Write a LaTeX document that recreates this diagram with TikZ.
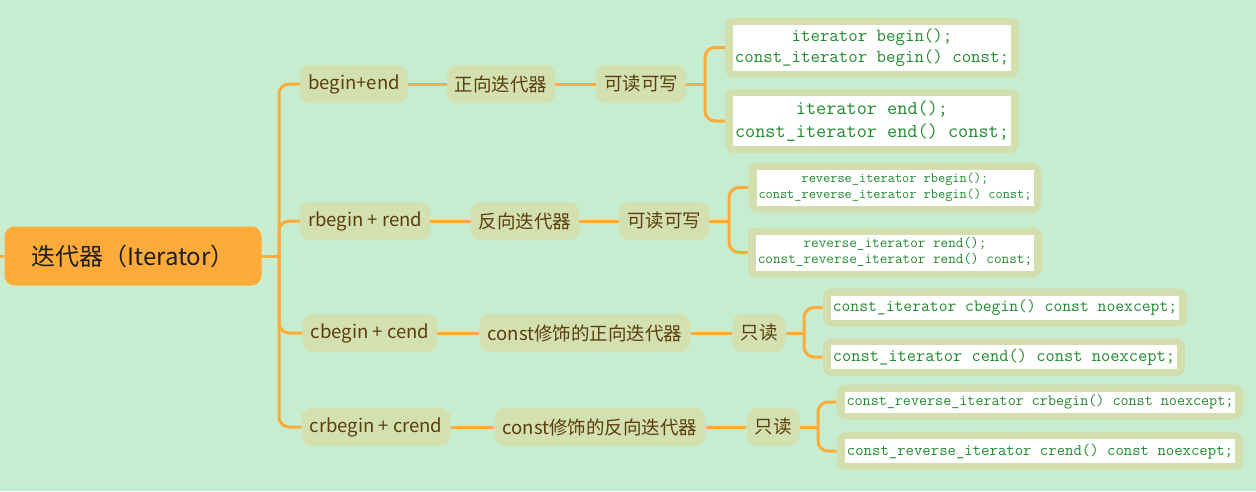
\documentclass[tikz,border=0pt]{standalone}
\usepackage{fontspec}
\setmainfont{Noto Sans CJK SC}
\usepackage{tikz}
\usetikzlibrary{positioning}
\definecolor{bgmint}{HTML}{C7EDD0}
\definecolor{rootorange}{HTML}{FFAB3A}
\definecolor{roottext}{HTML}{1E1E1E}
\definecolor{topicfill}{HTML}{D3E1B0}
\definecolor{topictext}{HTML}{5C3D0E}
\definecolor{leafframe}{HTML}{D2DEAE}
\definecolor{codegreen}{HTML}{1F8A2E}
\definecolor{linkorange}{HTML}{FFAB3A}
\setlength{\fboxsep}{2pt}
\newcommand{\codebox}[1]{\colorbox{white}{\begin{tabular}{@{}c@{}}#1\end{tabular}}}

\begin{document}
\begin{tikzpicture}[x=1pt,y=-1pt,
  root/.style={fill=rootorange, rounded corners=10pt, minimum width=257pt,
    minimum height=59pt, text=roottext, font=\fontsize{24}{28}\selectfont},
  topic/.style={fill=topicfill, rounded corners=10pt, minimum height=38pt,
    inner xsep=8pt, text=topictext, font=\fontsize{18.5}{22}\selectfont},
  leaf/.style={fill=leafframe, rounded corners=9pt, inner xsep=8pt,
    inner ysep=7pt, text=codegreen},
  codefont/.style 2 args={font=\ttfamily\fontsize{#1}{#2}\selectfont},
  link/.style={draw=linkorange, line width=3pt, rounded corners=10pt}]
% Background
\useasboundingbox (0,0) rectangle (1256,491);
\fill[bgmint] (0,0) rectangle (1256,491);
% Root
\node[root] (root) at (133,256) {迭代器（Iterator）};
% First level
\node[topic] (fwd) at (354,84) {begin+end};
\node[topic] (rev) at (365,221) {rbegin + rend};
\node[topic] (cfwd) at (370,333) {cbegin + cend};
\node[topic] (crev) at (376,427) {crbegin + crend};
% Kinds
\node[topic] (fwdkind) at (501,84) {正向迭代器};
\node[topic] (revkind) at (525,221) {反向迭代器};
\node[topic] (cfwdkind) at (585,333) {const修饰的正向迭代器};
\node[topic] (crevkind) at (600,427) {const修饰的反向迭代器};
% Access
\node[topic] (fwdrw) at (641,84) {可读可写};
\node[topic] (revrw) at (664,221) {可读可写};
\node[topic] (cfwdro) at (759,333) {只读};
\node[topic] (crevro) at (773,427) {只读};
% Signatures
\node[leaf, codefont={18.35}{21}] (fwdbegin) at (872,47.5)
  {\codebox{iterator begin();\\const\_iterator begin() const;}};
\node[leaf, codefont={19.7}{23}] (fwdend) at (872,121)
  {\codebox{iterator end();\\const\_iterator end() const;}};
\node[leaf, codefont={13.95}{16}] (revbegin) at (895,187.5)
  {\codebox{reverse\_iterator rbegin();\\const\_reverse\_iterator rbegin() const;}};
\node[leaf, codefont={14.8}{16}] (revend) at (895,252.5)
  {\codebox{reverse\_iterator rend();\\const\_reverse\_iterator rend() const;}};
\node[leaf, codefont={17.15}{20}] (cbegin) at (1005,307.5)
  {\codebox{const\_iterator cbegin() const noexcept;}};
\node[leaf, codefont={17.95}{20}] (cend) at (1004,357)
  {\codebox{const\_iterator cend() const noexcept;}};
\node[leaf, codefont={15.65}{17}] (crbegin) at (1040,402)
  {\codebox{const\_reverse\_iterator crbegin() const noexcept;}};
\node[leaf, codefont={16.3}{20}] (crend) at (1040,451)
  {\codebox{const\_reverse\_iterator crend() const noexcept;}};
% Connectors
\coordinate (rootin) at (0,256);
\coordinate (rootbus) at (279,256);
\coordinate (fwdbus) at (705,84);
\coordinate (revbus) at (729,221);
\coordinate (cfwdbus) at (804,333);
\coordinate (crevbus) at (818,427);
\draw[link] (rootin) -- (root.west);
\draw[link] (root.east) -- (rootbus);
\foreach \n in {fwd,rev,cfwd,crev}
  \draw[link] (rootbus) |- (\n.west);
\draw[link] (fwd.east) -- (fwdkind.west) (fwdkind.east) -- (fwdrw.west);
\draw[link] (rev.east) -- (revkind.west) (revkind.east) -- (revrw.west);
\draw[link] (cfwd.east) -- (cfwdkind.west) (cfwdkind.east) -- (cfwdro.west);
\draw[link] (crev.east) -- (crevkind.west) (crevkind.east) -- (crevro.west);
\draw[link] (fwdrw.east) -- (fwdbus);
\draw[link] (revrw.east) -- (revbus);
\draw[link] (cfwdro.east) -- (cfwdbus);
\draw[link] (crevro.east) -- (crevbus);
\foreach \b/\n in {fwdbus/fwdbegin,fwdbus/fwdend,revbus/revbegin,revbus/revend,
  cfwdbus/cbegin,cfwdbus/cend,crevbus/crbegin,crevbus/crend}
  \draw[link] (\b) |- (\n.west);
\end{tikzpicture}
\end{document}
